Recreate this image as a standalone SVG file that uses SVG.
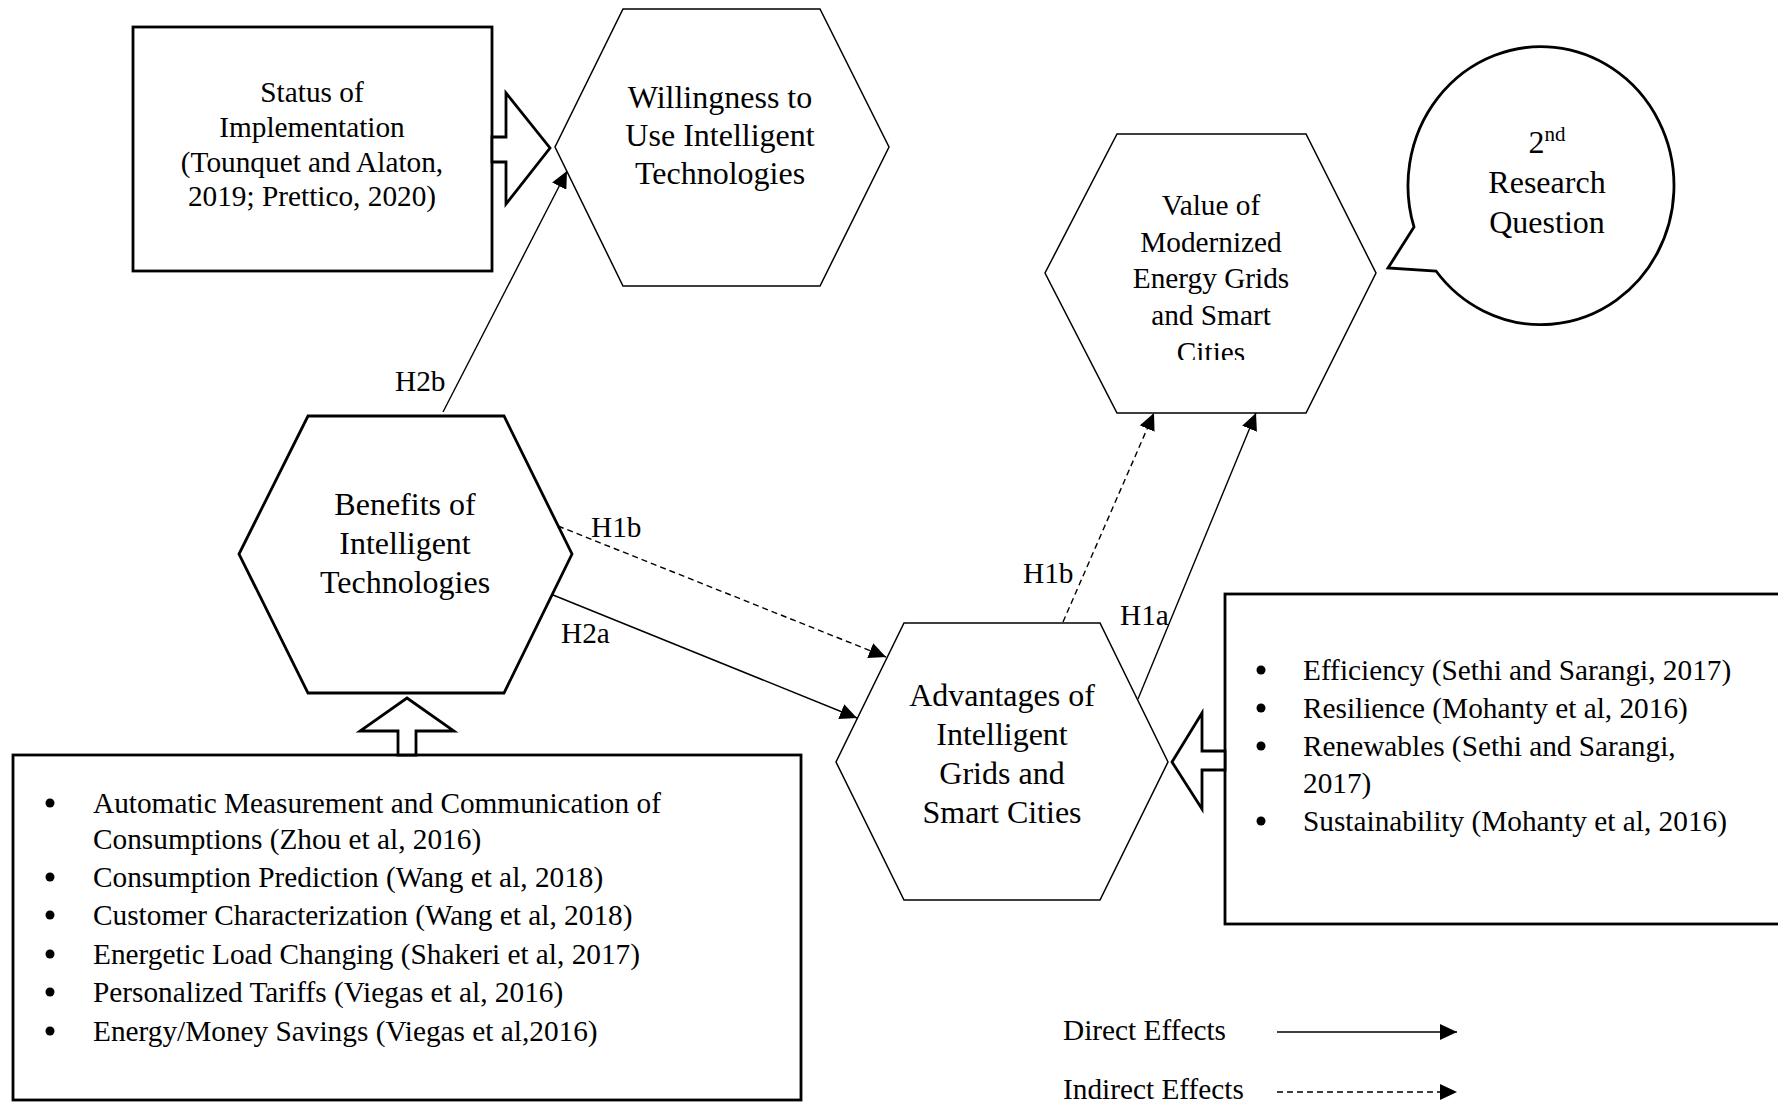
<svg xmlns="http://www.w3.org/2000/svg" width="1778" height="1102" viewBox="0 0 1778 1102">
<style>
  text { font-family: "Liberation Serif", "Times New Roman", serif; fill: #000; }
  .t29 { font-size: 29.3px; }
  .t32 { font-size: 32px; }
  .mid { text-anchor: middle; }
  .thin { fill: #fff; stroke: #000; stroke-width: 1.5; }
  .thick { fill: #fff; stroke: #000; stroke-width: 2.8; }
  .conn { fill: none; stroke: #000; stroke-width: 1.4; }
  .dash { stroke-dasharray: 6 4; }
  .blk { fill: #fff; stroke: #000; stroke-width: 2.8; stroke-linejoin: miter; }
</style>
<defs>
  <marker id="ah" markerUnits="userSpaceOnUse" markerWidth="18" markerHeight="16" refX="17" refY="8" orient="auto">
    <path d="M0,0 L17,8 L0,16 z" fill="#000"/>
  </marker>
  <clipPath id="clipValue">
    <rect x="1040" y="130" width="340" height="230"/>
  </clipPath>
</defs>
<rect width="1778" height="1102" fill="#fff"/>

<g id="connectors">
  <line class="conn" x1="443" y1="412" x2="567" y2="171" marker-end="url(#ah)"/>
  <line class="conn dash" x1="558" y1="526" x2="886" y2="657" marker-end="url(#ah)"/>
  <line class="conn" x1="553" y1="595" x2="857" y2="718" marker-end="url(#ah)"/>
  <line class="conn dash" x1="1063" y1="622" x2="1154" y2="413" marker-end="url(#ah)"/>
  <line class="conn" x1="1138" y1="699" x2="1256" y2="413" marker-end="url(#ah)"/>
  <text class="t29" x="395" y="391">H2b</text>
  <text class="t29" x="591" y="537">H1b</text>
  <text class="t29" x="561" y="643">H2a</text>
  <text class="t29" x="1023" y="583">H1b</text>
  <text class="t29" x="1120" y="625">H1a</text>
</g>

<g id="status">
  <rect class="thick" x="133" y="27" width="359" height="244"/>
  <polygon class="blk" points="492,137 506,137 506,93 550,148 506,204 506,162 492,162"/>
  <text class="t29 mid" x="312" y="102">Status of</text>
  <text class="t29 mid" x="312" y="137">Implementation</text>
  <text class="t29 mid" x="312" y="172">(Tounquet and Alaton,</text>
  <text class="t29 mid" x="312" y="206">2019; Prettico, 2020)</text>
</g>

<g id="willingness">
  <polygon class="thin" points="623,9 820,9 889,147 820,286 623,286 555,147"/>
  <text class="t32 mid" x="720" y="108">Willingness to</text>
  <text class="t32 mid" x="720" y="146">Use Intelligent</text>
  <text class="t32 mid" x="720" y="184">Technologies</text>
</g>

<g id="value">
  <polygon class="thin" points="1117,134 1306,134 1376,273 1306,413 1117,413 1045,273"/>
  <g clip-path="url(#clipValue)">
    <text class="t29 mid" x="1211" y="215">Value of</text>
    <text class="t29 mid" x="1211" y="251.5">Modernized</text>
    <text class="t29 mid" x="1211" y="288">Energy Grids</text>
    <text class="t29 mid" x="1211" y="325">and Smart</text>
    <text class="t29 mid" x="1211" y="362">Cities</text>
  </g>
</g>

<g id="question">
  <path class="thick" d="M1414,227 L1388,268 L1436,271 A133,139 0 1 0 1414,227 Z"/>
  <text class="t32 mid" x="1547" y="153">2<tspan font-size="21" dy="-12">nd</tspan></text>
  <text class="t32 mid" x="1547" y="193">Research</text>
  <text class="t32 mid" x="1547" y="233">Question</text>
</g>

<g id="benefits">
  <polygon class="thick" points="308,416 504,416 572,554 504,693 308,693 239,554"/>
  <text class="t32 mid" x="405" y="515">Benefits of</text>
  <text class="t32 mid" x="405" y="554">Intelligent</text>
  <text class="t32 mid" x="405" y="593">Technologies</text>
</g>

<g id="advantages">
  <polygon class="thin" points="904,623 1100,623 1168,762 1100,900 904,900 836,762"/>
  <text class="t32 mid" x="1002" y="706">Advantages of</text>
  <text class="t32 mid" x="1002" y="745">Intelligent</text>
  <text class="t32 mid" x="1002" y="784">Grids and</text>
  <text class="t32 mid" x="1002" y="823">Smart Cities</text>
</g>

<g id="advantages-list">
  <rect class="thick" x="1225" y="594" width="600" height="330"/>
  <polygon class="blk" points="1225,751 1202,751 1202,713 1172,762 1202,809 1202,770 1225,770"/>
  <circle cx="1261" cy="670" r="4.5"/>
  <circle cx="1261" cy="708" r="4.5"/>
  <circle cx="1261" cy="746" r="4.5"/>
  <circle cx="1261" cy="821" r="4.5"/>
  <text class="t29" x="1303" y="680">Efficiency (Sethi and Sarangi, 2017)</text>
  <text class="t29" x="1303" y="718">Resilience (Mohanty et al, 2016)</text>
  <text class="t29" x="1303" y="756">Renewables (Sethi and Sarangi,</text>
  <text class="t29" x="1303" y="793">2017)</text>
  <text class="t29" x="1303" y="831">Sustainability (Mohanty et al, 2016)</text>
</g>

<g id="benefits-list">
  <rect class="thick" x="13" y="755" width="788" height="345"/>
  <polygon class="blk" points="398,755 398,731 360,731 407,698 454,731 416,731 416,755"/>
  <circle cx="50" cy="803" r="4.5"/>
  <circle cx="50" cy="877" r="4.5"/>
  <circle cx="50" cy="915" r="4.5"/>
  <circle cx="50" cy="954" r="4.5"/>
  <circle cx="50" cy="992" r="4.5"/>
  <circle cx="50" cy="1031" r="4.5"/>
  <text class="t29" x="93" y="813">Automatic Measurement and Communication of</text>
  <text class="t29" x="93" y="849">Consumptions (Zhou et al, 2016)</text>
  <text class="t29" x="93" y="887">Consumption Prediction (Wang et al, 2018)</text>
  <text class="t29" x="93" y="925">Customer Characterization (Wang et al, 2018)</text>
  <text class="t29" x="93" y="964">Energetic Load Changing (Shakeri et al, 2017)</text>
  <text class="t29" x="93" y="1002">Personalized Tariffs (Viegas et al, 2016)</text>
  <text class="t29" x="93" y="1041">Energy/Money Savings (Viegas et al,2016)</text>
</g>

<g id="legend">
  <text class="t29" x="1063" y="1040">Direct Effects</text>
  <text class="t29" x="1063" y="1099">Indirect Effects</text>
  <line class="conn" x1="1277" y1="1032" x2="1457" y2="1032" marker-end="url(#ah)"/>
  <line class="conn dash" x1="1277" y1="1092" x2="1457" y2="1092" marker-end="url(#ah)"/>
</g>
</svg>
